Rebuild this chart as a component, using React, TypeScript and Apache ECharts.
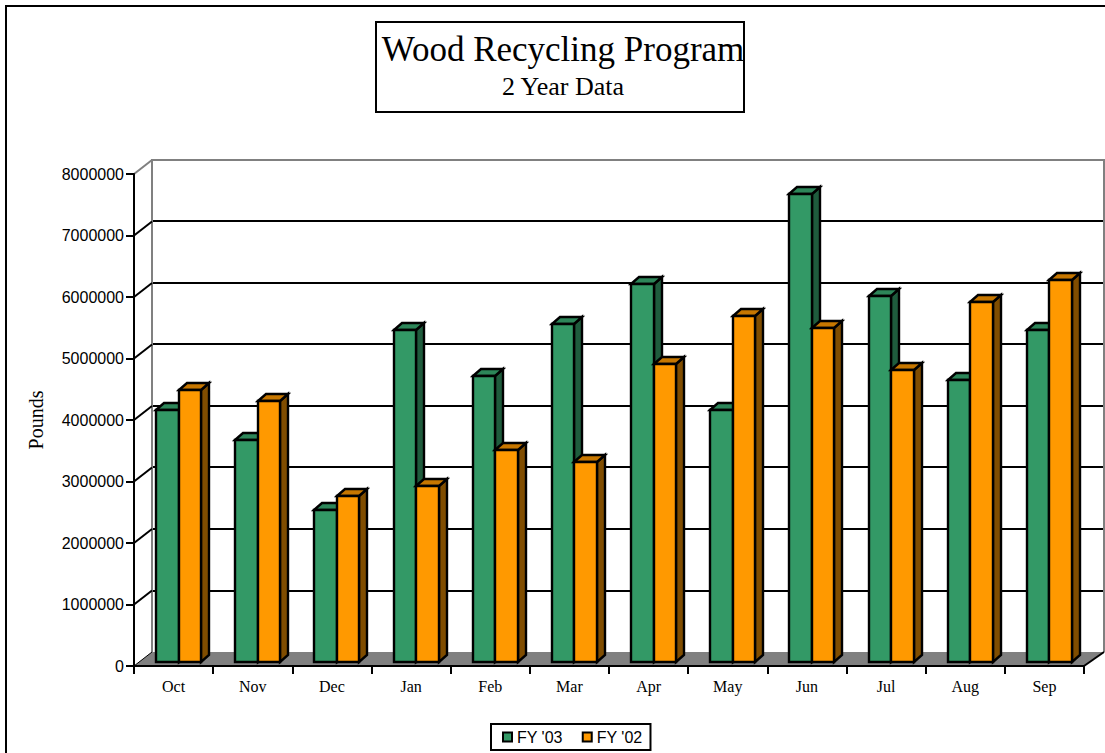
import React, { useEffect, useRef } from "react";
import * as echarts from "echarts";

const months = ["Oct", "Nov", "Dec", "Jan", "Feb", "Mar", "Apr", "May", "Jun", "Jul", "Aug", "Sep"];
const fy03 = [4090000, 3600000, 2470000, 5390000, 4640000, 5490000, 6140000, 4090000, 7600000, 5940000, 4580000, 5390000];
const fy02 = [4420000, 4240000, 2690000, 2860000, 3440000, 3250000, 4840000, 5620000, 5420000, 4740000, 5840000, 6200000];
const tickValues = [0, 1000000, 2000000, 3000000, 4000000, 5000000, 6000000, 7000000, 8000000];

const SERIF = "'Liberation Serif', serif";
const SANS = "'Liberation Sans', sans-serif";

// Receding offset from the front axes to the back wall.
const WALL_DX = 18;
const WALL_DY = -14;
// Depth of a single box.
const BOX_DX = 8;
const BOX_DY = -7;

const box = (side: "left" | "right", face: string, top: string, flank: string) =>
  (params: any, api: any) => {
    const [cx, yRaw] = api.coord([api.value(0), api.value(1)]);
    const [, y0Raw] = api.coord([api.value(0), 0]);
    const w = api.size([1, 0])[0] * 0.285;
    const y = Math.round(yRaw);
    const y0 = Math.round(y0Raw);
    const x0 = Math.round(side === "left" ? cx - w : cx);
    const x1 = Math.round(side === "left" ? cx : cx + w);
    const line = { stroke: "#000", lineWidth: 2.4, lineJoin: "miter" };
    return {
      type: "group",
      children: [
        {
          type: "polygon",
          shape: { points: [[x1, y], [x1 + BOX_DX, y + BOX_DY], [x1 + BOX_DX, y0 + BOX_DY], [x1, y0]] },
          style: { fill: flank, ...line },
        },
        {
          type: "polygon",
          shape: { points: [[x0, y], [x0 + BOX_DX, y + BOX_DY], [x1 + BOX_DX, y + BOX_DY], [x1, y]] },
          style: { fill: top, ...line },
        },
        { type: "rect", shape: { x: x0, y, width: x1 - x0, height: y0 - y }, style: { fill: face, ...line } },
      ],
    };
  };

export default function App() {
  const ref = useRef<HTMLDivElement>(null);

  useEffect(() => {
    const chart = echarts.init(ref.current!, undefined, { renderer: "svg" });
    const hiddenCategory = { type: "category", data: months, show: false };
    const hiddenValue = { type: "value", min: 0, max: 8000000, interval: 1000000, show: false };

    chart.setOption({
      animation: false,
      backgroundColor: "#fff",
      title: {
        text: "Wood Recycling Program",
        subtext: "2 Year Data",
        left: 563,
        top: 32,
        textAlign: "center",
        itemGap: 6,
        padding: 0,
        textStyle: { fontFamily: SERIF, fontSize: 35, fontWeight: "normal", color: "#000" },
        subtextStyle: { fontFamily: SERIF, fontSize: 26, color: "#000" },
      },
      legend: {
        data: ["FY '03", "FY '02"],
        left: 491,
        top: 724,
        padding: [5, 8, 5, 11],
        itemGap: 19,
        itemWidth: 9,
        itemHeight: 9,
        icon: "rect",
        borderColor: "#000",
        borderWidth: 2,
        textStyle: { fontFamily: SANS, fontSize: 16, color: "#000" },
        itemStyle: { borderColor: "#000", borderWidth: 2 },
      },
      grid: [
        { left: 134, top: 174, width: 950, height: 492 },
        { left: 152, top: 159, width: 952, height: 493 },
        { left: 139, top: 169, width: 950, height: 493 },
      ],
      xAxis: [
        {
          type: "category",
          data: months,
          gridIndex: 0,
          z: 5,
          axisLine: { lineStyle: { color: "#000", width: 2 } },
          axisTick: { show: true, alignWithLabel: false, length: 8, lineStyle: { color: "#000", width: 2 } },
          axisLabel: { fontFamily: SERIF, fontSize: 16, color: "#000", margin: 12 },
        },
        { ...hiddenCategory, gridIndex: 1 },
        { ...hiddenCategory, gridIndex: 2 },
      ],
      yAxis: [
        {
          type: "value",
          gridIndex: 0,
          min: 0,
          max: 8000000,
          interval: 1000000,
          z: 5,
          name: "Pounds",
          nameLocation: "middle",
          nameGap: 88,
          nameTextStyle: { fontFamily: SERIF, fontSize: 20, color: "#000" },
          axisLine: { show: true, lineStyle: { color: "#000", width: 2 } },
          axisTick: { show: true, length: 8, lineStyle: { color: "#000", width: 2 } },
          axisLabel: { fontFamily: SANS, fontSize: 16, color: "#000", margin: 10, formatter: (v: number) => String(v) },
          splitLine: { show: false },
        },
        {
          type: "value",
          gridIndex: 1,
          min: 0,
          max: 8000000,
          interval: 1000000,
          axisLine: { show: false },
          axisTick: { show: false },
          axisLabel: { show: false },
          splitLine: { show: true, showMinLine: false, showMaxLine: false, lineStyle: { color: "#000", width: 2 } },
        },
        { ...hiddenValue, gridIndex: 2 },
      ],
      series: [
        {
          // Grey floor between the front axis and the back wall.
          type: "custom",
          name: "floor",
          xAxisIndex: 0,
          yAxisIndex: 0,
          z: 2,
          silent: true,
          clip: false,
          data: [[0, 0]],
          renderItem: (_: any, api: any) => {
            const [x0, y0] = api.coord([0, 0]);
            const [x1] = api.coord([11, 0]);
            const half = api.size([1, 0])[0] / 2;
            const xl = x0 - half;
            const xr = x1 + half;
            return {
              type: "polygon",
              shape: { points: [[xl, y0], [xl + WALL_DX, y0 + WALL_DY], [xr + WALL_DX + 2, y0 + WALL_DY], [xr, y0]] },
              style: { fill: "#808080" },
            };
          },
        },
        {
          // Diagonals joining each front tick to its wall line.
          type: "custom",
          name: "wall ticks",
          xAxisIndex: 0,
          yAxisIndex: 0,
          z: 3,
          silent: true,
          clip: false,
          data: tickValues.map((v) => [0, v]),
          renderItem: (_: any, api: any) => {
            const [cx, y] = api.coord([0, api.value(1)]);
            const x = cx - api.size([1, 0])[0] / 2;
            const v = api.value(1);
            return {
              type: "line",
              shape: { x1: x, y1: y, x2: x + WALL_DX, y2: y + WALL_DY },
              style: { stroke: v === 8000000 ? "#808080" : "#000", lineWidth: v === 0 ? 1 : 2 },
            };
          },
        },
        {
          // Right-hand edge of the floor.
          type: "custom",
          name: "floor edge",
          xAxisIndex: 0,
          yAxisIndex: 0,
          z: 3,
          silent: true,
          clip: false,
          data: [[11, 0]],
          renderItem: (_: any, api: any) => {
            const [cx, y] = api.coord([11, 0]);
            const x = cx + api.size([1, 0])[0] / 2;
            return {
              type: "line",
              shape: { x1: x, y1: y, x2: x + WALL_DX + 2, y2: y + WALL_DY },
              style: { stroke: "#000", lineWidth: 2 },
            };
          },
        },
        {
          type: "custom",
          name: "FY '03",
          xAxisIndex: 2,
          yAxisIndex: 2,
          z: 4,
          clip: false,
          itemStyle: { color: "#339966" },
          encode: { x: 0, y: 1 },
          data: fy03.map((v, i) => [i, v]),
          renderItem: box("left", "#339966", "#2d8659", "#1f5c3d"),
        },
        {
          type: "custom",
          name: "FY '02",
          xAxisIndex: 2,
          yAxisIndex: 2,
          z: 4,
          clip: false,
          itemStyle: { color: "#ff9900" },
          encode: { x: 0, y: 1 },
          data: fy02.map((v, i) => [i, v]),
          renderItem: box("right", "#ff9900", "#c77700", "#804d00"),
        },
      ],
      graphic: [
        {
          // Page frame, running off the right and bottom edges.
          type: "rect",
          shape: { x: 6, y: 6, width: 1300, height: 1000 },
          style: { fill: "transparent", stroke: "#000", lineWidth: 2 },
          silent: true,
        },
        {
          type: "rect",
          shape: { x: 376, y: 22, width: 368, height: 90 },
          style: { fill: "transparent", stroke: "#000", lineWidth: 2 },
          silent: true,
        },
        {
          // Outline of the back wall.
          type: "polyline",
          shape: { points: [[152, 652], [152, 160], [1104, 160], [1104, 652]] },
          style: { fill: "transparent", stroke: "#808080", lineWidth: 2 },
          silent: true,
          z: 1,
        },
      ],
    });
    return () => chart.dispose();
  }, []);

  return <div ref={ref} style={{ position: "absolute", left: 0, top: 0, width: 1105, height: 753 }} />;
}
